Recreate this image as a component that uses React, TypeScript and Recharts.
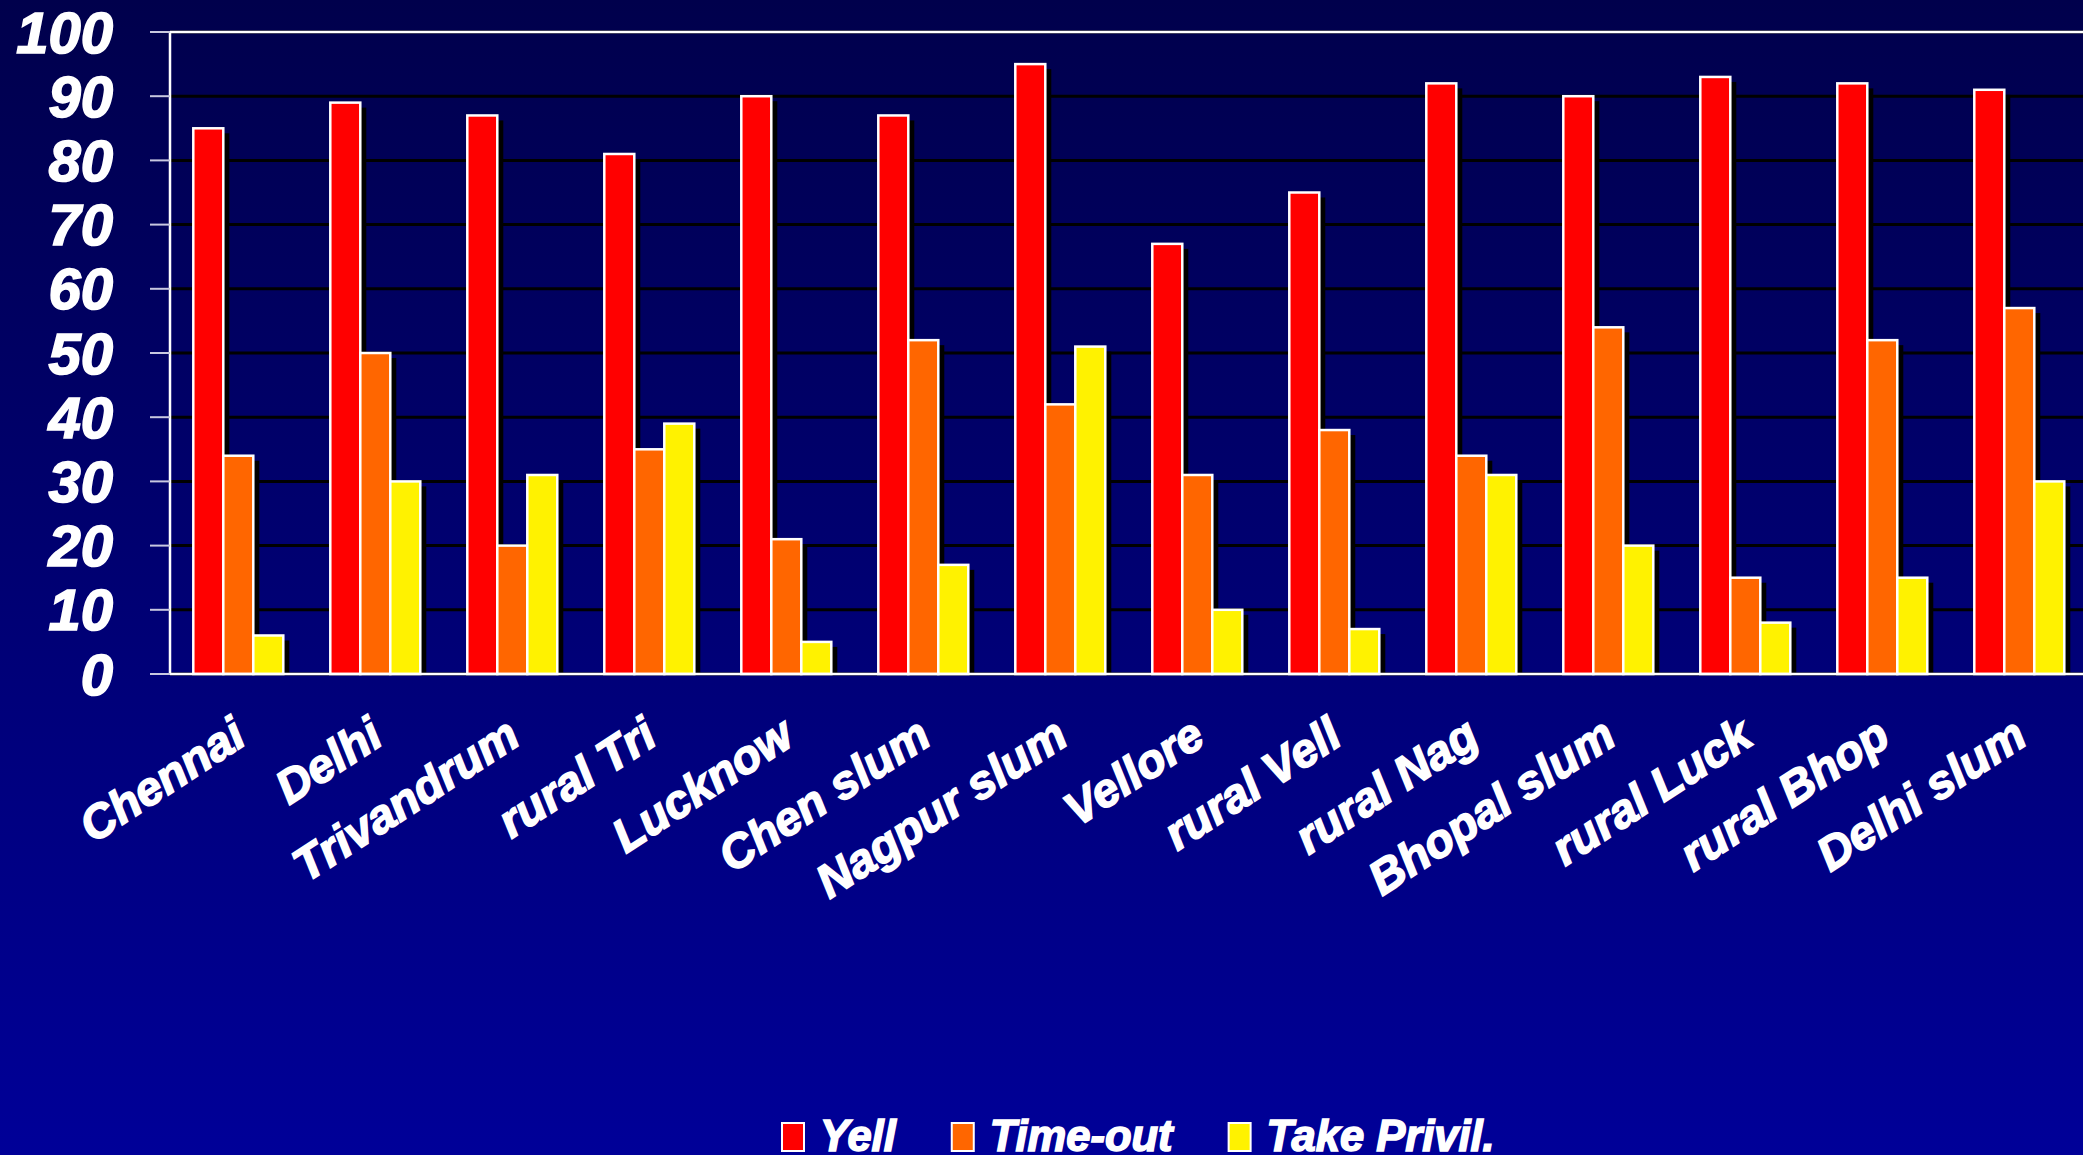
import { BarChart, Bar, XAxis, YAxis, CartesianGrid, ReferenceLine, Legend } from "recharts";

const categories = [
  "Chennai", "Delhi", "Trivandrum", "rural Tri", "Lucknow", "Chen slum", "Nagpur slum",
  "Vellore", "rural Vell", "rural Nag", "Bhopal slum", "rural Luck", "rural Bhop", "Delhi slum",
];
const yell = [85, 89, 87, 81, 90, 87, 95, 67, 75, 92, 90, 93, 92, 91];
const timeOut = [34, 50, 20, 35, 21, 52, 42, 31, 38, 34, 54, 15, 52, 57];
const takePrivil = [6, 30, 31, 39, 5, 17, 51, 10, 7, 31, 20, 8, 15, 30];
const yTicks = [0, 10, 20, 30, 40, 50, 60, 70, 80, 90, 100];
const edgeTicks = [0, 1, 2, 3, 4, 5, 6, 7, 8, 9, 10, 11, 12, 13, 14];

const series = [
  { key: "yell", name: "Yell", color: "#FF0000" },
  { key: "timeOut", name: "Time-out", color: "#FF6600" },
  { key: "takePrivil", name: "Take Privil.", color: "#FFF200" },
];

const data = categories.map((name, i) => ({
  name,
  yell: yell[i],
  timeOut: timeOut[i],
  takePrivil: takePrivil[i],
}));

const FONT = '"Liberation Sans", Arial, sans-serif';
const LEGEND_SIZE = 43.5;

const measure = (text: string, size: number) => {
  const ctx = document.createElement("canvas").getContext("2d");
  if (!ctx) return text.length * size * 0.6;
  ctx.font = `italic bold ${size}px ${FONT}`;
  return ctx.measureText(text).width;
};

// bar with a black drop shadow and a white outline
const ShadowBar = (props: any) => {
  const { x, y, width, height, fill } = props;
  if (!height || height <= 0) return null;
  return (
    <g>
      <rect x={x + 6} y={y + 5} width={width} height={Math.max(height - 5, 0)} fill="#000" />
      <rect x={x} y={y} width={width} height={height} fill={fill} stroke="#fff" strokeWidth={2.5} />
    </g>
  );
};

const CategoryTick = ({ x, y, payload }: any) => {
  const ax = x + 10;
  const ay = y + 69;
  return (
    <text
      x={ax}
      y={ay}
      textAnchor="end"
      transform={`rotate(-33 ${ax} ${ay})`}
      fill="#fff"
      stroke="#fff"
      strokeWidth={1.6}
      fontSize={47}
      fontWeight="bold"
      fontStyle="italic"
      fontFamily={FONT}
    >
      {payload.value}
    </text>
  );
};

const renderLegend = () => {
  let cursor = 0;
  const items = series.map((s) => {
    const w = measure(s.name, LEGEND_SIZE);
    const item = { ...s, x: cursor };
    cursor += 23 + 16 + w + 55;
    return item;
  });
  return (
    <svg width={cursor} height={50} style={{ display: "block" }}>
      {items.map((s) => (
        <g key={s.key}>
          <rect x={s.x + 1} y={18} width={22} height={28} fill={s.color} stroke="#fff" strokeWidth={2} />
          <text
            x={s.x + 39}
            y={46}
            fill="#fff"
            stroke="#fff"
            strokeWidth={1.6}
            fontSize={LEGEND_SIZE}
            fontWeight="bold"
            fontStyle="italic"
            fontFamily={FONT}
          >
            {s.name}
          </text>
        </g>
      ))}
    </svg>
  );
};

export default function App() {
  return (
    <div
      style={{
        position: "fixed",
        left: 0,
        top: 0,
        width: 2083,
        height: 1155,
        overflow: "hidden",
        background: "linear-gradient(to bottom, #00004c 0%, #000098 100%)",
      }}
    >
      <BarChart
        width={2088}
        height={1155}
        data={data}
        margin={{ top: 32, right: 0, bottom: 0, left: 0 }}
        barCategoryGap="17%"
        barGap={0}
      >
        <CartesianGrid vertical={false} stroke="#000" strokeWidth={3} />
        <XAxis
          xAxisId="edges"
          type="number"
          domain={[0, 14]}
          ticks={edgeTicks}
          tick={false}
          axisLine={false}
          tickLine={{ stroke: "#fff", strokeWidth: 2 }}
          tickSize={16}
          height={0}
        />
        <XAxis
          xAxisId="cat"
          dataKey="name"
          interval={0}
          tickLine={false}
          tickSize={0}
          tickMargin={0}
          axisLine={{ stroke: "#fff", strokeWidth: 2.5 }}
          tick={<CategoryTick />}
          height={431}
        />
        <YAxis
          domain={[0, 100]}
          ticks={yTicks}
          interval={0}
          width={170}
          tickSize={20}
          tickMargin={37}
          axisLine={{ stroke: "#fff", strokeWidth: 2.5 }}
          tickLine={{ stroke: "#c8c8e0", strokeWidth: 2 }}
          tick={{
            fill: "#fff",
            stroke: "#fff",
            strokeWidth: 1.6,
            fontSize: 58,
            fontWeight: "bold",
            fontStyle: "italic",
            fontFamily: FONT,
          }}
        />
        <ReferenceLine y={100} xAxisId="cat" stroke="#fff" strokeWidth={2.5} />
        {series.map((s) => (
          <Bar
            key={s.key}
            xAxisId="cat"
            dataKey={s.key}
            name={s.name}
            fill={s.color}
            shape={<ShadowBar />}
            isAnimationActive={false}
          />
        ))}
        <Legend
          verticalAlign="bottom"
          content={renderLegend}
          wrapperStyle={{ left: 781, bottom: 0, width: "auto" }}
        />
      </BarChart>
    </div>
  );
}
